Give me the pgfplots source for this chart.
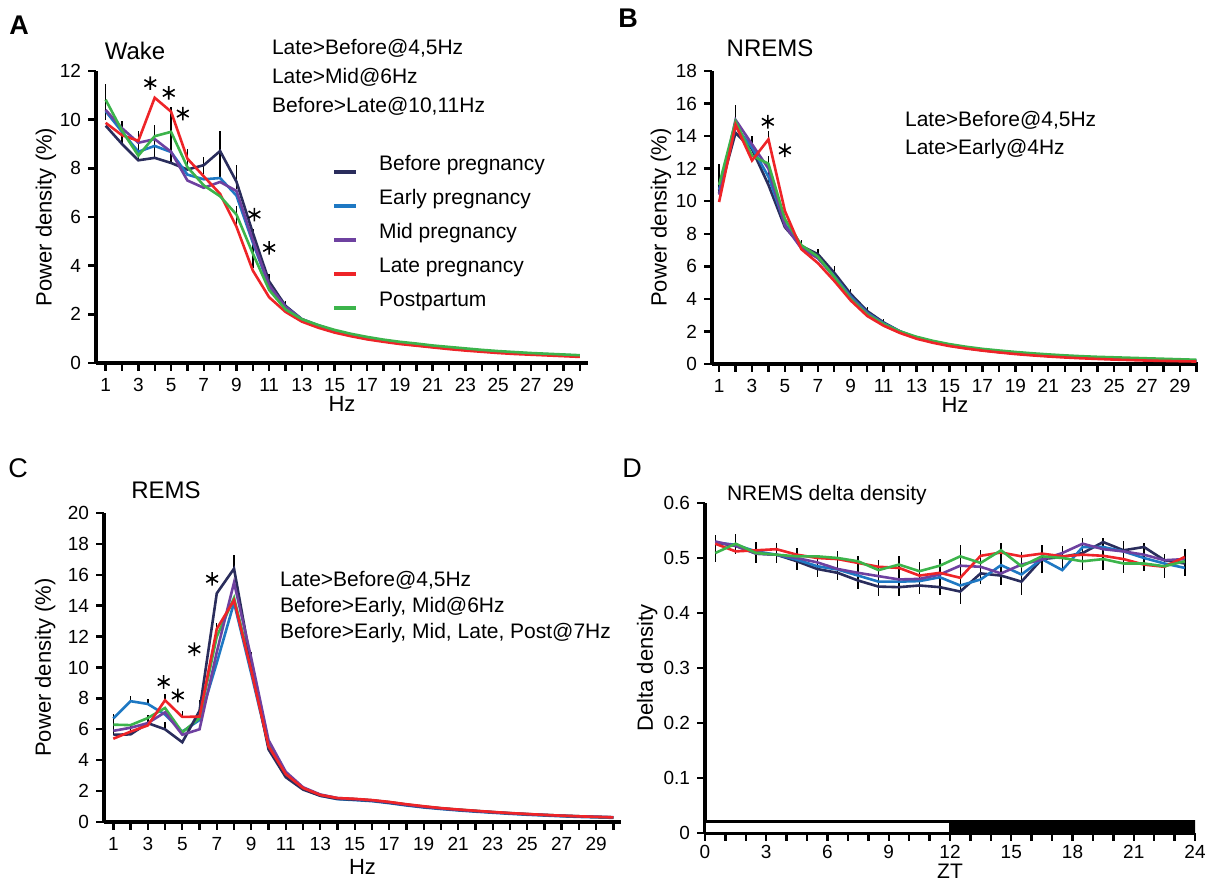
\documentclass[border=0pt]{standalone}
\usepackage{pgfplots}
\pgfplotsset{compat=1.18}
\usepackage{pgfplotstable}
\usepackage{fontspec}
\setmainfont{Liberation Sans}

\definecolor{cBefore}{RGB}{42,45,92}
\definecolor{cEarly}{RGB}{30,120,195}
\definecolor{cMid}{RGB}{110,65,160}
\definecolor{cLate}{RGB}{238,36,40}
\definecolor{cPost}{RGB}{60,180,75}

\newcommand\tk{\fontsize{9.5}{11}\selectfont}
\newcommand\lab{\fontsize{11}{13}\selectfont}
\newcommand\ttl{\fontsize{12}{14}\selectfont}
\newcommand\ann{\fontsize{10.5}{12.5}\selectfont}
\newcommand\pletter{\fontsize{13.5}{15}\selectfont}

\pgfplotsset{
  panel/.style={
    scale only axis,
    axis x line*=bottom, axis y line*=left,
    axis line style={line width=1.7pt, -},
    tick align=outside,
    major tick length=4pt, minor tick length=4pt,
    tick style={line width=1.2pt, black},
    ticklabel style={font=\tk},
    /pgf/number format/assume math mode=true,
    label style={font=\lab},
    ymin=0,
  },
  spec/.style={xtick={1,3,...,29}, minor xtick={2,4,...,30}, xlabel={Hz}, ylabel={Power density (\%)}},
  ser/.style={line width=1.3pt, mark=none},
  ebar/.style={forget plot, draw=none, mark=none,
    /pgfplots/error bars/y dir=plus, /pgfplots/error bars/y explicit,
    /pgfplots/error bars/error mark=none,
    /pgfplots/error bars/error bar style={draw=black, line width=0.7pt}},
  ast/.style={forget plot, only marks, mark=asterisk, mark size=3.4pt, mark options={black, line width=0.8pt}},
}

% ---------------- Panel A: Wake ----------------
\pgfplotstableread{
x before early mid late post
1 9.75 10.35 10.40 9.87 10.82
2 9.00 9.50 9.65 9.36 9.55
3 8.33 8.68 9.05 9.13 8.52
4 8.43 8.92 9.20 10.90 9.32
5 8.22 8.67 8.68 10.33 9.50
6 7.95 7.74 7.50 8.40 8.05
7 8.13 7.55 7.20 7.67 7.30
8 8.71 7.60 7.44 6.95 6.85
9 7.45 6.88 7.07 5.60 6.10
10 5.35 4.95 5.05 3.80 4.50
11 3.35 3.15 3.20 2.70 3.00
12 2.35 2.30 2.30 2.10 2.20
13 1.80 1.80 1.80 1.70 1.80
14 1.52 1.55 1.53 1.45 1.56
15 1.30 1.33 1.32 1.25 1.36
16 1.13 1.16 1.15 1.10 1.20
17 1.00 1.03 1.02 0.97 1.07
18 0.90 0.92 0.91 0.87 0.96
19 0.80 0.83 0.82 0.78 0.87
20 0.73 0.75 0.74 0.71 0.80
21 0.66 0.68 0.67 0.64 0.72
22 0.60 0.62 0.61 0.57 0.66
23 0.54 0.56 0.55 0.51 0.60
24 0.49 0.51 0.50 0.46 0.54
25 0.44 0.46 0.45 0.41 0.49
26 0.40 0.42 0.41 0.37 0.45
27 0.37 0.39 0.38 0.34 0.41
28 0.34 0.36 0.35 0.31 0.38
29 0.31 0.33 0.32 0.28 0.35
30 0.28 0.30 0.29 0.25 0.32
}\tabA
\pgfplotstableread{
x y e
1 10.00 1.45
2 9.00 0.95
3 8.33 1.20
4 8.43 1.35
5 8.22 2.28
6 7.95 0.85
7 7.78 0.70
8 7.60 1.95
9 7.15 1.00
9 5.60 0.85
10 3.90 1.60
11 3.10 0.55
12 2.20 0.35
}\errA

% ---------------- Panel B: NREMS ----------------
\pgfplotstableread{
x before early mid late post
1 10.50 10.70 10.40 9.95 11.00
2 14.20 14.60 15.00 14.70 14.90
3 13.20 13.30 13.50 12.50 12.80
4 11.00 11.50 12.00 13.80 12.30
5 8.40 8.60 8.50 9.40 8.90
6 7.25 7.15 7.10 7.05 7.30
7 6.75 6.55 6.50 6.20 6.60
8 5.60 5.40 5.35 5.10 5.35
9 4.30 4.15 4.05 3.90 4.00
10 3.25 3.15 3.10 2.95 3.05
11 2.55 2.50 2.45 2.35 2.45
12 2.00 2.00 1.98 1.90 2.00
13 1.62 1.62 1.60 1.55 1.67
14 1.35 1.35 1.34 1.30 1.42
15 1.15 1.15 1.14 1.10 1.22
16 0.98 0.99 0.98 0.95 1.06
17 0.85 0.86 0.85 0.82 0.93
18 0.74 0.75 0.74 0.71 0.83
19 0.65 0.66 0.65 0.61 0.74
20 0.57 0.58 0.57 0.53 0.66
21 0.50 0.51 0.50 0.46 0.59
22 0.45 0.46 0.45 0.40 0.53
23 0.40 0.41 0.40 0.35 0.48
24 0.36 0.37 0.36 0.31 0.44
25 0.32 0.33 0.32 0.27 0.41
26 0.29 0.30 0.29 0.24 0.38
27 0.26 0.27 0.26 0.21 0.35
28 0.24 0.25 0.24 0.19 0.32
29 0.22 0.23 0.22 0.17 0.29
30 0.20 0.21 0.20 0.15 0.26
}\tabB
\pgfplotstableread{
x y e
1 10.50 1.80
2 14.20 1.70
3 13.20 0.80
4 11.20 1.60
4 13.80 0.50
6 7.25 0.35
7 6.75 0.30
8 5.60 0.40
9 4.30 0.30
10 3.25 0.25
11 2.55 0.20
}\errB

% ---------------- Panel C: REMS ----------------
\pgfplotstableread{
x before early mid late post
1 5.65 6.70 5.90 5.39 6.30
2 5.67 7.82 6.10 5.85 6.27
3 6.40 7.64 6.40 6.25 6.73
4 6.00 6.95 7.10 7.88 7.38
5 5.16 5.85 5.65 6.80 5.80
6 7.20 6.60 6.00 6.82 6.73
7 14.80 10.30 11.00 12.50 12.00
8 16.40 14.20 15.50 14.35 14.50
9 10.20 9.60 10.60 9.80 10.00
10 4.70 4.90 5.30 4.90 5.00
11 2.90 3.05 3.25 3.10 3.10
12 2.10 2.15 2.25 2.20 2.20
13 1.70 1.70 1.78 1.75 1.75
14 1.50 1.48 1.55 1.55 1.53
15 1.45 1.42 1.48 1.50 1.48
16 1.38 1.35 1.40 1.42 1.40
17 1.25 1.22 1.28 1.30 1.28
18 1.10 1.07 1.12 1.15 1.13
19 0.97 0.94 0.99 1.02 1.00
20 0.87 0.84 0.88 0.90 0.89
21 0.78 0.75 0.79 0.81 0.80
22 0.70 0.67 0.71 0.73 0.72
23 0.63 0.60 0.64 0.65 0.64
24 0.56 0.53 0.57 0.58 0.57
25 0.50 0.47 0.51 0.52 0.51
26 0.45 0.42 0.46 0.46 0.46
27 0.40 0.37 0.41 0.41 0.41
28 0.36 0.33 0.37 0.37 0.37
29 0.33 0.30 0.34 0.33 0.33
30 0.30 0.27 0.31 0.30 0.30
}\tabC
\pgfplotstableread{
x y e
1 5.65 1.35
2 5.67 0.60
2 7.82 0.35
3 6.40 0.50
3 7.64 0.35
4 6.00 0.45
4 7.88 0.40
5 6.80 0.40
6 7.20 0.70
7 12.50 0.40
8 16.40 0.90
9 10.20 0.80
10 4.70 0.60
}\errC

% ---------------- Panel D: NREMS delta density ----------------
\pgfplotstableread{
x before early mid late post
0.5 0.528 0.528 0.530 0.526 0.509
1.5 0.522 0.524 0.522 0.512 0.526
2.5 0.508 0.512 0.508 0.514 0.509
3.5 0.506 0.506 0.506 0.516 0.506
4.5 0.494 0.497 0.500 0.506 0.503
5.5 0.480 0.485 0.492 0.500 0.503
6.5 0.473 0.479 0.480 0.498 0.500
7.5 0.459 0.468 0.473 0.491 0.494
8.5 0.448 0.457 0.467 0.484 0.478
9.5 0.447 0.457 0.461 0.482 0.488
10.5 0.450 0.458 0.462 0.468 0.476
11.5 0.447 0.465 0.470 0.473 0.486
12.5 0.439 0.450 0.486 0.464 0.503
13.5 0.472 0.461 0.484 0.504 0.491
14.5 0.468 0.487 0.472 0.510 0.514
15.5 0.457 0.470 0.488 0.503 0.485
16.5 0.498 0.498 0.497 0.508 0.503
17.5 0.502 0.478 0.509 0.503 0.500
18.5 0.509 0.520 0.526 0.506 0.494
19.5 0.529 0.520 0.516 0.504 0.498
20.5 0.514 0.512 0.512 0.498 0.490
21.5 0.520 0.500 0.506 0.488 0.490
22.5 0.496 0.490 0.496 0.484 0.485
23.5 0.490 0.482 0.498 0.502 0.494
}\tabD
\pgfplotstableread{
x y e
0.5 0.517 0.025
1.5 0.526 0.018
2.5 0.510 0.019
3.5 0.509 0.018
4.5 0.4985 0.020
5.5 0.484 0.018
6.5 0.486 0.026
7.5 0.473 0.030
8.5 0.464 0.033
9.5 0.467 0.037
10.5 0.463 0.029
11.5 0.465 0.033
12.5 0.470 0.054
13.5 0.484 0.031
14.5 0.489 0.038
15.5 0.4715 0.039
16.5 0.4985 0.026
17.5 0.499 0.023
18.5 0.508 0.029
19.5 0.508 0.029
20.5 0.5015 0.029
21.5 0.502 0.026
22.5 0.486 0.022
23.5 0.492 0.024
}\errD

\begin{document}
\begin{tikzpicture}
\useasboundingbox (0pt,0pt) rectangle (609pt,440.5pt);

% ===== A =====
\begin{axis}[panel, spec, at={(48pt,259pt)}, anchor=south west,
  width=246pt, height=146pt, xmin=0.41, xmax=30.5, ymax=12,
  ytick={0,2,...,12},
  xlabel style={at={(axis description cs:0.5,0)}, anchor=center, yshift=-20.5pt},
  ylabel style={at={(axis description cs:-0.102,0.5)}, anchor=center},
  legend style={at={(axis description cs:0.479,0.714)}, anchor=north west,
    draw=none, fill=none, inner sep=0pt, font=\ann,
    nodes={inner sep=0pt, text height=8pt, text depth=9pt},
    /tikz/every odd column/.append style={column sep=10.5pt}},
  legend cell align=left,
  legend image code/.code={\draw[#1, line width=2pt] (0pt,0pt) -- (11pt,0pt);},
]
\addplot[ebar] table[x=x, y=y, y error=e]{\errA};
\addplot[ser, cBefore] table[x=x, y=before]{\tabA}; \addlegendentry{Before pregnancy}
\addplot[ser, cEarly] table[x=x, y=early]{\tabA}; \addlegendentry{Early pregnancy}
\addplot[ser, cMid] table[x=x, y=mid]{\tabA}; \addlegendentry{Mid pregnancy}
\addplot[ser, cLate] table[x=x, y=late]{\tabA}; \addlegendentry{Late pregnancy}
\addplot[ser, cPost] table[x=x, y=post]{\tabA}; \addlegendentry{Postpartum}
\addplot[ast] coordinates {(3.73,11.5) (4.86,11.1) (5.72,10.25) (10.1,6.1) (11.0,4.73)};
\end{axis}

% ===== B =====
\begin{axis}[panel, spec, at={(356pt,258.5pt)}, anchor=south west,
  width=243pt, height=146.5pt, xmin=0.57, xmax=30.1, ymax=18,
  ytick={0,2,...,18},
  xlabel style={at={(axis description cs:0.5,0)}, anchor=center, yshift=-20.5pt},
  ylabel style={at={(axis description cs:-0.105,0.5)}, anchor=center},
]
\addplot[ebar] table[x=x, y=y, y error=e]{\errB};
\addplot[ser, cBefore] table[x=x, y=before]{\tabB};
\addplot[ser, cEarly] table[x=x, y=early]{\tabB};
\addplot[ser, cMid] table[x=x, y=mid]{\tabB};
\addplot[ser, cPost] table[x=x, y=post]{\tabB};
\addplot[ser, cLate] table[x=x, y=late]{\tabB};
\addplot[ast] coordinates {(3.96,14.88) (5.0,13.13)};
\end{axis}

% ===== C =====
\begin{axis}[panel, spec, at={(52pt,29.5pt)}, anchor=south west,
  width=258.5pt, height=154.5pt, xmin=0.46, xmax=30.44, ymax=20,
  ytick={0,2,...,20},
  xlabel style={at={(axis description cs:0.5,0)}, anchor=center, yshift=-22.5pt},
  ylabel style={at={(axis description cs:-0.114,0.5)}, anchor=center},
]
\addplot[ebar] table[x=x, y=y, y error=e]{\errC};
\addplot[ser, cEarly] table[x=x, y=early]{\tabC};
\addplot[ser, cPost] table[x=x, y=post]{\tabC};
\addplot[ser, cBefore] table[x=x, y=before]{\tabC};
\addplot[ser, cMid] table[x=x, y=mid]{\tabC};
\addplot[ser, cLate] table[x=x, y=late]{\tabC};
\addplot[ast] coordinates {(3.92,9.06) (4.74,8.19) (5.7,11.18) (6.73,15.74)};
\end{axis}

% ===== D =====
\begin{axis}[panel, at={(352.5pt,24pt)}, anchor=south west,
  width=245pt, height=165pt, xmin=0, xmax=24, ymax=0.6,
  xtick={0,3,...,24}, minor xtick={1,2,4,5,7,8,10,11,13,14,16,17,19,20,22,23},
  ytick={0,0.1,...,0.6},
  xticklabel style={inner sep=2pt},
  yticklabel style={/pgf/number format/fixed, /pgf/number format/precision=1},
  xlabel={ZT}, ylabel={Delta density},
  xlabel style={at={(axis description cs:0.5,0)}, anchor=center, yshift=-19.2pt, inner sep=0pt, font=\fontsize{10.5}{12}\selectfont},
  ylabel style={at={(axis description cs:-0.118,0.5)}, anchor=center},
]
\addplot[forget plot, fill=white, draw=black, line width=1.4pt] coordinates {(0,0) (0,0.021) (12,0.021) (12,0)} -- cycle;
\addplot[forget plot, fill=black, draw=black, line width=1.4pt] coordinates {(12,0) (12,0.021) (24,0.021) (24,0)} -- cycle;
\addplot[forget plot, draw=none, mark=none,
  error bars/.cd, y dir=both, y explicit, error mark=none,
  error bar style={draw=black, line width=0.7pt}] table[x=x, y=y, y error=e]{\errD};
\addplot[ser, cBefore] table[x=x, y=before]{\tabD};
\addplot[ser, cEarly] table[x=x, y=early]{\tabD};
\addplot[ser, cMid] table[x=x, y=mid]{\tabD};
\addplot[ser, cLate] table[x=x, y=late]{\tabD};
\addplot[ser, cPost] table[x=x, y=post]{\tabD};
\end{axis}

% ===== texts =====
\node[font=\pletter\bfseries] at (9.5pt,428pt) {A};
\node[font=\pletter\bfseries] at (314pt,431.5pt) {B};
\node[font=\pletter] at (9pt,206.5pt) {C};
\node[font=\pletter] at (316pt,206.5pt) {D};

\node[font=\ttl] at (67.5pt,415pt) {Wake};
\node[font=\ann, anchor=west] at (132.5pt,416.5pt) {Late>Before@4,5Hz};
\node[font=\ann, anchor=west] at (132.5pt,402pt) {Late>Mid@6Hz};
\node[font=\ann, anchor=west] at (132.5pt,387.5pt) {Before>Late@10,11Hz};

\node[font=\ttl] at (385pt,416.5pt) {NREMS};
\node[font=\ann, anchor=west] at (449pt,380.5pt) {Late>Before@4,5Hz};
\node[font=\ann, anchor=west] at (449pt,366pt) {Late>Early@4Hz};

\node[font=\ttl] at (83pt,195.5pt) {REMS};
\node[font=\ann, anchor=west] at (136.5pt,150.5pt) {Late>Before@4,5Hz};
\node[font=\ann, anchor=west] at (136.5pt,137pt) {Before>Early, Mid@6Hz};
\node[font=\ann, anchor=west] at (136.5pt,124pt) {Before>Early, Mid, Late, Post@7Hz};

\node[font=\ann, anchor=west] at (360pt,193pt) {NREMS delta density};
\end{tikzpicture}
\end{document}
